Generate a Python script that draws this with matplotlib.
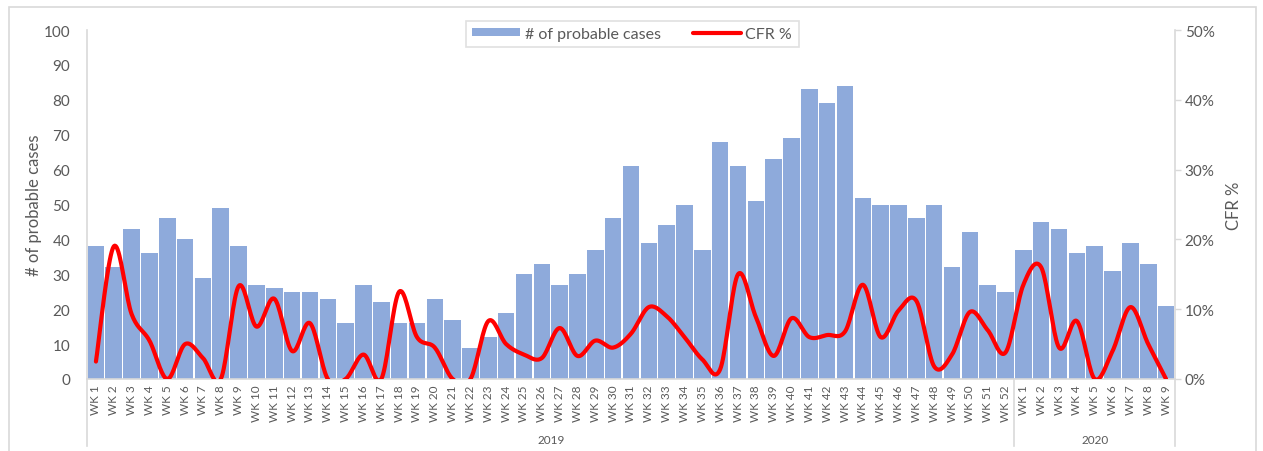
import numpy as np
import matplotlib
matplotlib.use("Agg")
import matplotlib.pyplot as plt
from matplotlib import transforms
from matplotlib.patches import Rectangle
from matplotlib.ticker import FuncFormatter

plt.rcParams['font.family'] = ['Lato', 'DejaVu Sans']

# weeks: 2019 WK1..WK52, 2020 WK1..WK9
weeks_2019 = ["WK %d" % i for i in range(1, 53)]
weeks_2020 = ["WK %d" % i for i in range(1, 10)]
week_labels = weeks_2019 + weeks_2020
years = ["2019", "2020"]

cases = [38, 32, 43, 36, 46, 40, 29, 49, 38, 27,
         26, 25, 25, 23, 16, 27, 22, 16, 16, 23,
         17, 9, 12, 19, 30, 33, 27, 30, 37, 46,
         61, 39, 44, 50, 37, 68, 61, 51, 63, 69,
         83, 79, 84, 52, 50, 50, 46, 50, 32, 42,
         27, 25,
         37, 45, 43, 36, 38, 31, 39, 33, 21]

cfr = [2.5, 19.0, 9.3, 5.5, 0.0, 5.0, 3.0, 0.0, 13.3, 7.5,
       11.5, 4.0, 8.0, 0.0, 0.0, 3.5, 0.0, 12.5, 6.0, 4.5,
       0.0, 0.0, 8.3, 5.0, 3.5, 3.0, 7.3, 3.3, 5.5, 4.5,
       6.5, 10.3, 9.0, 6.0, 2.8, 1.4, 15.0, 8.9, 3.3, 8.7,
       6.0, 6.3, 6.8, 13.5, 6.0, 9.8, 11.2, 1.8, 3.5, 9.6,
       7.0, 3.8,
       13.5, 16.0, 4.5, 8.3, 0.0, 4.0, 10.3, 5.0, 0.0]


def smooth_curve(x, y, n=20):
    # Excel-style smoothed line: cubic bezier with 1/6 neighbour tangents
    x = np.asarray(x, float)
    y = np.asarray(y, float)
    px = np.concatenate([[x[0]], x, [x[-1]]])
    py = np.concatenate([[y[0]], y, [y[-1]]])
    t = np.linspace(0, 1, n)[:, None]
    xs, ys = [], []
    for i in range(1, len(px) - 2):
        p0 = np.array([px[i], py[i]])
        p3 = np.array([px[i + 1], py[i + 1]])
        c1 = p0 + (np.array([px[i + 1], py[i + 1]]) - np.array([px[i - 1], py[i - 1]])) / 6.0
        c2 = p3 - (np.array([px[i + 2], py[i + 2]]) - np.array([px[i], py[i]])) / 6.0
        b = (1 - t) ** 3 * p0 + 3 * (1 - t) ** 2 * t * c1 + 3 * (1 - t) * t ** 2 * c2 + t ** 3 * p3
        xs.append(b[:, 0])
        ys.append(b[:, 1])
    return np.concatenate(xs), np.concatenate(ys)


grey = '#595959'
line_grey = '#d9d9d9'

fig = plt.figure(figsize=(12.63, 4.52), dpi=100)
ax = fig.add_axes([0.0689, 0.1593, 0.8614, 0.7721])
ax2 = ax.twinx()

x = np.arange(len(cases))
bars = ax.bar(x, cases, width=0.93, color='#8eaadb', edgecolor='none',
              label='# of probable cases', zorder=2)
sx, sy = smooth_curve(x, cfr)
line, = ax2.plot(sx, sy, color='#ff0000', lw=3.0, solid_capstyle='round',
                 label='CFR %', zorder=3)

ax.set_xlim(-0.5, len(cases) - 0.5)
ax.set_ylim(0, 100)
ax.set_yticks(np.arange(0, 101, 10))
ax2.set_ylim(0, 50)
ax2.set_yticks(np.arange(0, 51, 10))
ax2.yaxis.set_major_formatter(FuncFormatter(lambda v, p: "%d%%" % v))

ax.set_zorder(ax2.get_zorder() - 1)
ax.patch.set_visible(False)
ax2.patch.set_visible(False)

ax.set_xticks(x)
ax.set_xticklabels(week_labels, rotation=90, fontsize=8.5, color=grey)
ax.tick_params(axis='x', length=0, pad=4)
ax.tick_params(axis='y', length=0, labelsize=11, colors=grey, pad=12)
ax2.tick_params(axis='y', length=4, width=1, colors=line_grey, labelcolor=grey,
                labelsize=11, pad=3, direction='out')

for a in (ax, ax2):
    for s in a.spines.values():
        s.set_visible(False)
ax.spines['bottom'].set_visible(True)
ax.spines['bottom'].set_color(line_grey)
ax.spines['bottom'].set_linewidth(1.2)

ax.set_ylabel('# of probable cases', fontsize=12, color=grey, labelpad=1)
ax2.set_ylabel('CFR %', fontsize=12, color=grey, labelpad=8)

# vertical axis / group separator lines (extend down to the year row)
trans = transforms.blended_transform_factory(ax.transData, fig.transFigure)
top_y = 0.9314
bot_y = 0.011
for xv, top in [(-0.5, top_y), (51.5, 0.1593), (len(cases) - 0.5, top_y)]:
    ax.plot([xv, xv], [bot_y, top], transform=trans, color=line_grey, lw=1.2,
            clip_on=False, zorder=1)

# year labels
ax.text(25.5, 0.025, years[0], transform=trans, ha='center', va='center',
        fontsize=8.5, color=grey)
ax.text(56, 0.025, years[1], transform=trans, ha='center', va='center',
        fontsize=8.5, color=grey)

leg = fig.legend([bars, line], ['# of probable cases', 'CFR %'], loc='center',
                 bbox_to_anchor=(0.5005, 0.9226), ncol=2, fontsize=11.5,
                 frameon=True, fancybox=False, edgecolor=line_grey,
                 handlelength=3.0, handleheight=0.4, handletextpad=0.3,
                 columnspacing=2.0, borderpad=0.4)
leg.get_frame().set_linewidth(1.2)
for t in leg.get_texts():
    t.set_color(grey)

fig.patches.append(Rectangle((0.0071, -0.01), 0.9873, 0.9923, transform=fig.transFigure,
                             fill=False, edgecolor=line_grey, lw=1.2))

fig.savefig('out.png', dpi=100)
